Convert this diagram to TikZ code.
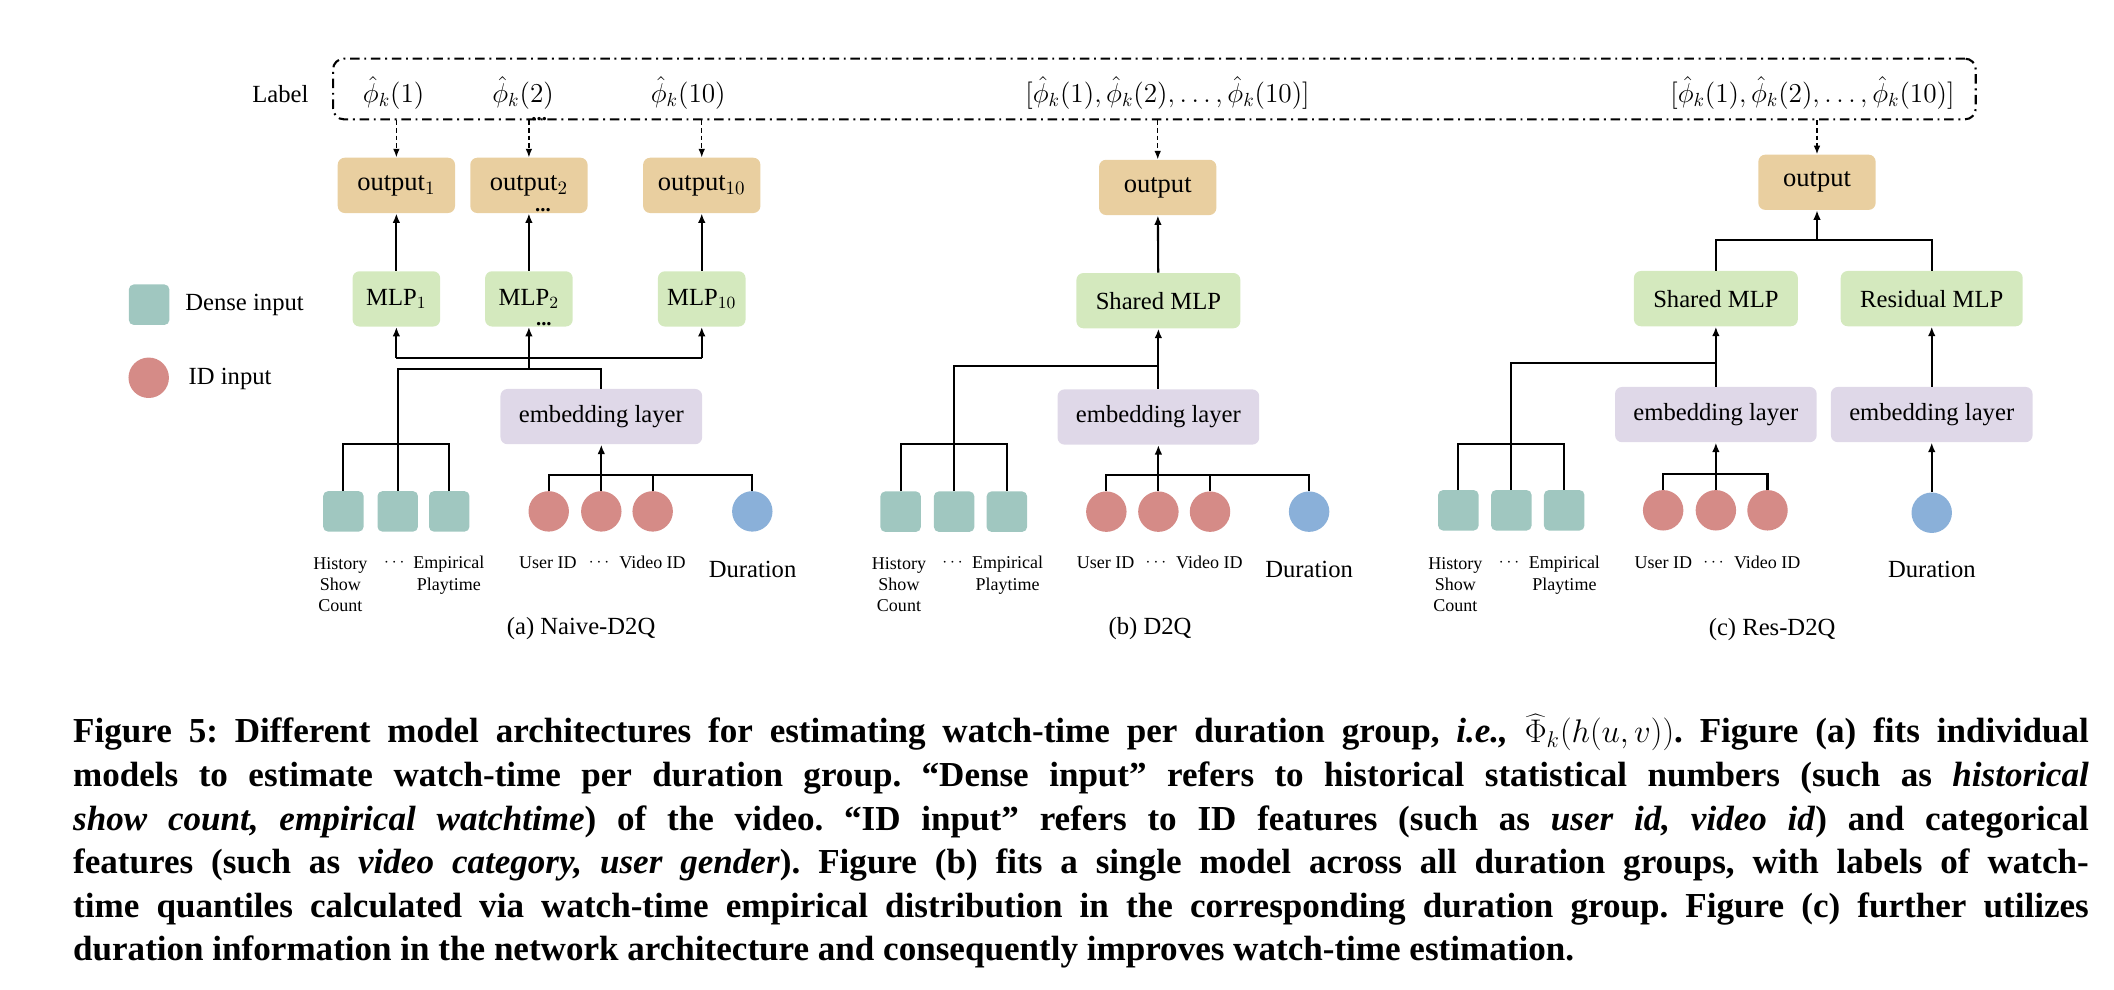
\documentclass[tikz,border=0pt]{standalone}
\usepackage{fontspec}
\setmainfont{Liberation Serif}
\usetikzlibrary{arrows.meta}
\definecolor{densecol}{RGB}{160,199,192}
\definecolor{idcol}{RGB}{213,139,135}
\definecolor{durcol}{RGB}{138,176,217}
\definecolor{outcol}{RGB}{233,207,160}
\definecolor{mlpcol}{RGB}{212,233,190}
\definecolor{embcol}{RGB}{223,216,232}
\tikzset{
  box/.style={rectangle, rounded corners=1.3mm, inner sep=0pt, minimum height=10.25mm, font=\fontsize{13}{15}\selectfont},
  outbox/.style={box, fill=outcol, minimum width=21.75mm, font=\fontsize{14}{16}\selectfont},
  mlpbox/.style={box, fill=mlpcol, minimum width=16.25mm},
  embbox/.style={box, fill=embcol, minimum width=37.4mm},
  densesq/.style={rectangle, rounded corners=0.9mm, fill=densecol, minimum size=7.5mm, inner sep=0pt},
  idcirc/.style={circle, fill=idcol, minimum size=7.5mm, inner sep=0pt},
  durcirc/.style={circle, fill=durcol, minimum size=7.5mm, inner sep=0pt},
  conn/.style={line width=1.1pt, black},
  arr/.style={conn, -{Latex[length=5pt,width=4pt]}},
  dasharr/.style={line width=0.7pt, dash pattern=on 2.5pt off 1.5pt, -{Latex[length=4.5pt,width=3.5pt]}},
  labelbox/.style={draw, line width=1.1pt, dash pattern=on 5pt off 2.5pt on 1pt off 2.5pt, rounded corners=2mm},
  txt/.style={inner sep=0pt, font=\fontsize{13}{15}\selectfont},
  phitxt/.style={inner sep=0pt, font=\fontsize{14}{16}\selectfont},
  featlbl/.style={inner sep=0pt, align=center, font=\fontsize{9.5}{11.3}\selectfont},
  moredots/.style={inner sep=0pt, font=\fontsize{11}{12}\selectfont\bfseries}
}
\begin{document}
\begin{tikzpicture}[x=0.25mm,y=-0.25mm]
  \useasboundingbox (0,0) rectangle (1568,734.3);
  % label row
  \node[labelbox, minimum width=304.6mm, minimum height=11.25mm] (lblbox) at (856.25,66) {};
  \node[txt] (lbl) at (208,70) {Label};
  \node[phitxt] (phi1) at (292,69) {$\hat{\phi}_k(1)$};
  \node[phitxt] (phi2) at (388,69) {$\hat{\phi}_k(2)$};
  \node[phitxt] (phi10) at (510.5,69) {$\hat{\phi}_k(10)$};
  \node[moredots] (dots0) at (400,88) {...};
  \node[phitxt] (phib) at (866,69) {$[\hat{\phi}_k(1),\hat{\phi}_k(2),\ldots,\hat{\phi}_k(10)]$};
  \node[phitxt] (phic) at (1344.3,69) {$[\hat{\phi}_k(1),\hat{\phi}_k(2),\ldots,\hat{\phi}_k(10)]$};
  % legend
  \node[densesq] (legsq) at (110.6,226) {};
  \node[txt, anchor=west] (legd) at (137.2,226.2) {Dense input};
  \node[idcirc] (legci) at (110.3,280.2) {};
  \node[txt, anchor=west] (legi) at (139.7,281.3) {ID input};

  % (a) Naive-D2Q
  \coordinate (abus) at (0,265.5);
  \coordinate (amid) at (0,274);
  \coordinate (adbus) at (0,329.5);
  \coordinate (aibus) at (0,352.5);
  \node[outbox] (out1) at (294,137.5) {output$_1$};
  \node[outbox] (out2) at (392.3,137.5) {output$_2$};
  \node[outbox] (out10) at (520.5,137.5) {output$_{10}$};
  \node[mlpbox] (mlp1) at (294,221.7) {MLP$_1$};
  \node[mlpbox] (mlp2) at (392.3,221.7) {MLP$_2$};
  \node[mlpbox] (mlp10) at (520.5,221.7) {MLP$_{10}$};
  \node[moredots] (dots1) at (402.7,156.2) {...};
  \node[moredots] (dots2) at (403.4,240.3) {...};
  \node[embbox] (emba) at (446,309) {embedding layer};
  \node[densesq] (da1) at (254.7,379.3) {};
  \node[densesq] (da2) at (295,379.3) {};
  \node[densesq] (da3) at (333.2,379.3) {};
  \node[idcirc] (ia1) at (407,379.3) {};
  \node[idcirc] (ia2) at (446,379.3) {};
  \node[idcirc] (ia3) at (484.1,379.3) {};
  \node[durcirc] (dura) at (558,379.3) {};
  \node[featlbl] (fa1) at (252.5,433.6) {History\\Show\\Count};
  \node[featlbl] (fa2) at (292.5,417.5) {$\cdots$};
  \node[featlbl] (fa3) at (333,426.7) {Empirical\\Playtime};
  \node[featlbl] (fa4) at (406.4,417.3) {User ID};
  \node[featlbl] (fa5) at (444.3,417) {$\cdots$};
  \node[featlbl] (fa6) at (484,417) {Video ID};
  \node[txt] (fa7) at (558.2,422.2) {Duration};
  \node[txt] (capa) at (431,466) {(a) Naive-D2Q};
  \foreach \i in {1,2,10} {
    \draw[dasharr] (out\i |- lblbox.south) -- (out\i);
    \draw[arr] (mlp\i) -- (out\i);
  }
  \draw[conn] (mlp1 |- abus) -- (mlp10 |- abus);
  \draw[arr] (mlp1 |- abus) -- (mlp1);
  \draw[arr] (mlp10 |- abus) -- (mlp10);
  \draw[arr] (mlp2 |- amid) -- (mlp2);
  \draw[conn] (da2.north) |- (emba.north |- amid) -- (emba.north);
  \draw[conn] (da1.north) |- (da3.north |- adbus) -- (da3.north);
  \draw[conn] (ia1.north) |- (dura.north |- aibus) -- (dura.north);
  \draw[conn] (ia3.north) -- (ia3.north |- aibus);
  \draw[arr] (ia2) -- (emba);

  % (b) D2Q
  \coordinate (bmid) at (0,271.5);
  \coordinate (bdbus) at (0,329.5);
  \coordinate (bibus) at (0,352.5);
  \node[outbox] (outb) at (858.7,139) {output};
  \node[mlpbox, minimum width=30.4mm] (sharedb) at (859.2,223) {Shared MLP};
  \node[embbox] (embb) at (859.2,309.3) {embedding layer};
  \node[densesq] (db1) at (668,379.5) {};
  \node[densesq] (db2) at (707.7,379.5) {};
  \node[densesq] (db3) at (746.8,379.5) {};
  \node[idcirc] (ib1) at (820.6,379.5) {};
  \node[idcirc] (ib2) at (859.2,379.5) {};
  \node[idcirc] (ib3) at (897.5,379.5) {};
  \node[durcirc] (durb) at (971,379.5) {};
  \node[featlbl] (fb1) at (666.8,433.6) {History\\Show\\Count};
  \node[featlbl] (fb2) at (706.5,417.5) {$\cdots$};
  \node[featlbl] (fb3) at (747.4,426.7) {Empirical\\Playtime};
  \node[featlbl] (fb4) at (820,417.3) {User ID};
  \node[featlbl] (fb5) at (857.4,417) {$\cdots$};
  \node[featlbl] (fb6) at (897,417) {Video ID};
  \node[txt] (fb7) at (971,422.2) {Duration};
  \node[txt] (capb) at (853,466.5) {(b) D2Q};
  \draw[dasharr] (outb |- lblbox.south) -- (outb);
  \draw[arr] (sharedb) -- (outb);
  \draw[arr] (embb) -- (sharedb);
  \draw[conn] (db2.north) |- (embb.north |- bmid);
  \draw[conn] (db1.north) |- (db3.north |- bdbus) -- (db3.north);
  \draw[conn] (ib1.north) |- (durb.north |- bibus) -- (durb.north);
  \draw[conn] (ib3.north) -- (ib3.north |- bibus);
  \draw[arr] (ib2) -- (embb);

  % (c) Res-D2Q
  \coordinate (cbus) at (0,178.3);
  \coordinate (cmid) at (0,269.5);
  \coordinate (cdbus) at (0,329);
  \coordinate (cibus) at (0,351.6);
  \node[outbox] (outc) at (1347.7,135.2) {output};
  \node[mlpbox, minimum width=30.4mm] (sharedc) at (1272.7,221.5) {Shared MLP};
  \node[mlpbox, minimum width=33.75mm] (resc) at (1432.8,221.5) {Residual MLP};
  \node[embbox] (embc) at (1272.7,307.5) {embedding layer};
  \node[embbox] (embr) at (1432.8,307.5) {embedding layer};
  \node[densesq] (dc1) at (1081.7,378.5) {};
  \node[densesq] (dc2) at (1121,378.5) {};
  \node[densesq] (dc3) at (1160.2,378.5) {};
  \node[idcirc] (ic1) at (1233.6,378.5) {};
  \node[idcirc] (ic2) at (1272.7,378.5) {};
  \node[idcirc] (ic3) at (1311,378.5) {};
  \node[durcirc] (durc) at (1432.8,380.3) {};
  \node[featlbl] (fc1) at (1079.5,433.6) {History\\Show\\Count};
  \node[featlbl] (fc2) at (1119.3,417.5) {$\cdots$};
  \node[featlbl] (fc3) at (1160.4,426.7) {Empirical\\Playtime};
  \node[featlbl] (fc4) at (1233.7,417.3) {User ID};
  \node[featlbl] (fc5) at (1271,417) {$\cdots$};
  \node[featlbl] (fc6) at (1310.8,417) {Video ID};
  \node[txt] (fc7) at (1432.9,422.2) {Duration};
  \node[txt] (capc) at (1314.4,467) {(c) Res-D2Q};
  \draw[dasharr] (outc |- lblbox.south) -- (outc);
  \draw[conn] (sharedc.north) |- (resc.north |- cbus) -- (resc.north);
  \draw[arr] (outc |- cbus) -- (outc);
  \draw[arr] (embc) -- (sharedc);
  \draw[arr] (embr) -- (resc);
  \draw[conn] (dc2.north) |- (embc.north |- cmid);
  \draw[conn] (dc1.north) |- (dc3.north |- cdbus) -- (dc3.north);
  \draw[conn] (ic1.north) |- (ic3.north |- cibus) -- (ic3.north);
  \draw[arr] (ic2) -- (embc);
  \draw[arr] (durc) -- (embr);

  % caption
  \node[anchor=base west, text width=373.75mm, align=justify, inner sep=0pt,
        font=\fontsize{18.5}{23}\selectfont\bfseries\frenchspacing] (cap) at (54,551) {Figure 5: Different model architectures for estimating watch-time per duration group, \textit{i.e.,} $\widehat{\Phi}_k(h(u,v))$. Figure (a) fits individual\linebreak
  models to estimate watch-time per duration group. “Dense input” refers to historical statistical numbers (such as \textit{historical}\linebreak
  \textit{show count, empirical watchtime}) of the video. “ID input” refers to ID features (such as \textit{user id, video id}) and categorical\linebreak
  features (such as \textit{video category, user gender}). Figure (b) fits a single model across all duration groups, with labels of watch-\linebreak
  time quantiles calculated via watch-time empirical distribution in the corresponding duration group. Figure (c) further utilizes\linebreak
  duration information in the network architecture and consequently improves watch-time estimation.};
\end{tikzpicture}
\end{document}
